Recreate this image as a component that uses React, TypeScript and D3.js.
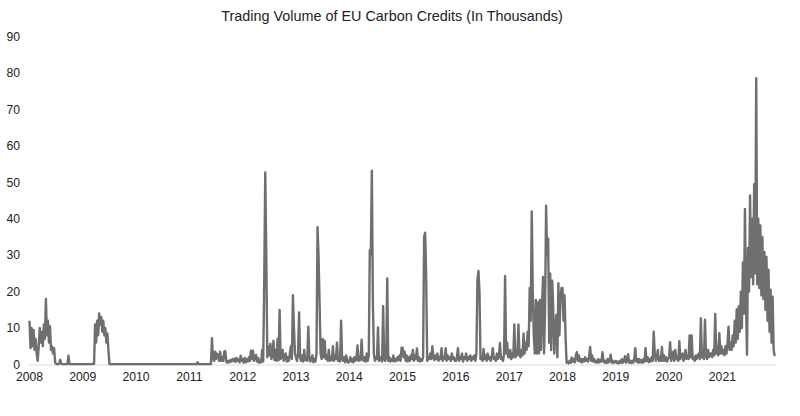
import React from "react";
import * as d3 from "d3";

const title = "Trading Volume of EU Carbon Credits (In Thousands)";
const years = [2008, 2009, 2010, 2011, 2012, 2013, 2014, 2015, 2016, 2017, 2018, 2019, 2020, 2021];
const yTicks = [0, 10, 20, 30, 40, 50, 60, 70, 80, 90];
const xTickLabels = ["2008", "2009", "2010", "2011", "2012", "2013", "2014", "2015", "2016", "2017", "2018", "2019", "2020", "2021"];

// weekly volumes (thousands)
const v2008 = [12, 4.5, 10, 5, 9.5, 4, 7, 3, 1, 5, 10, 6, 9, 5, 11, 7, 18, 8, 12, 6, 10.5, 4, 5, 3, 4.5, 0.5, 0.2, 0.1, 0.1, 0.3, 1.3, 0.2, 0.1, 0.1, 0.1, 0.1, 0.1, 0.1, 2.4, 0.1, 0.1, 0.1, 0.1, 0.1, 0.1, 0.1, 0.1, 0.1, 0.1, 0.1, 0.1, 0.1];
const v2009 = [0.1, 0.1, 0.1, 0.1, 0.1, 0.1, 0.1, 0.1, 0.1, 0.1, 0.3, 0.2, 11, 6, 12, 8, 14, 11, 13, 9, 12, 8, 10, 6, 8.5, 4, 0.1, 0.1, 0.1, 0.1, 0.1, 0.1, 0.1, 0.1, 0.1, 0.1, 0.1, 0.1, 0.1, 0.1, 0.1, 0.1, 0.1, 0.1, 0.1, 0.1, 0.1, 0.1, 0.1, 0.1, 0.1, 0.1];
const v2010 = [0.1, 0.1, 0.1, 0.1, 0.1, 0.1, 0.1, 0.1];
const v2011 = [0.1, 0.1, 0.1, 0.1, 0.1, 0.1, 0.1, 0.1, 0.6, 0.1, 0.1, 0.1, 0.1, 0.1, 0.1, 0.1, 0.1, 0.1, 0.1, 0.1, 0.1, 0.1, 7.2, 2, 1, 3.5, 1.5, 3, 2.5, 1, 3.5, 1, 2, 1, 3.5, 3.7, 0.8, 0.5, 1, 0.6, 1.2, 0.8, 1.5, 1, 1.6, 0.7, 1.8, 1, 1.4, 0.6, 2.4, 1];
const v2012 = [1.5, 0.5, 1.8, 0.6, 1.5, 0.8, 2, 1, 3.8, 1.5, 3.8, 1, 2.2, 2.6, 0.8, 1.8, 0.5, 1.2, 0.6, 4, 0.8, 22.7, 52.7, 30.5, 2, 5, 2.5, 5.7, 1.5, 2.5, 6.5, 1.2, 4, 1, 7, 1.2, 15, 1.5, 2.5, 4, 1, 2, 3, 0.8, 2, 1, 3, 5, 1.5, 19, 10, 3];
const v2013 = [2, 1, 3, 14.3, 2, 1, 2.5, 0.8, 4, 1.2, 2, 1, 10.4, 2, 0.8, 1.5, 2.5, 0.6, 1.5, 0.8, 3, 37.7, 29.7, 17, 3, 1.5, 7, 2, 6.5, 1.5, 2.5, 1, 4, 1, 2, 1.2, 5, 1, 2.5, 1.5, 6, 1, 2, 0.8, 12, 1.5, 1, 2, 0.6, 2.5, 1, 0.5];
const v2014 = [1, 2, 0.8, 1.5, 0.6, 2, 1, 1.5, 5.2, 1, 2, 1.2, 6.8, 1.5, 1, 2, 0.8, 3, 1, 2.5, 31.4, 30, 53.2, 17, 3, 1, 2, 1.5, 10.2, 1, 2, 1.5, 0.8, 16, 1.5, 1, 2, 23.6, 1, 2, 0.8, 1.5, 1, 2.5, 0.8, 1.5, 1, 2, 1.2, 2.5, 1, 4.6];
const v2015 = [4.6, 2, 3.5, 1, 2.5, 0.8, 2, 1, 2.5, 1.5, 4, 1, 2.5, 1.5, 4.4, 1, 2, 0.8, 1.5, 1, 2, 35, 36.2, 24, 1, 2, 1.5, 3, 1.5, 5, 2, 1.2, 2.5, 1.5, 3, 1, 2, 1.5, 4.5, 1, 2, 1.5, 4.5, 1, 2.5, 1.5, 2, 1, 3, 1.5, 2, 1];
const v2016 = [1, 2, 4.5, 1, 2, 1.5, 3, 0.8, 2, 1.5, 3, 1, 2, 1.5, 2.5, 1, 2, 1.5, 2.5, 1, 3, 23, 25.7, 20, 1.5, 2, 1, 4.3, 1.5, 2.5, 1, 3, 1.5, 2, 1, 2.5, 4.5, 1.5, 2, 1, 3, 1.5, 2.5, 5.9, 1.5, 2, 1, 3, 24.3, 3, 6, 2];
const v2017 = [2, 4, 1.5, 3, 2, 11, 2, 4, 2.5, 11, 3, 2, 4, 2.5, 8.5, 3, 6, 4, 9, 5, 21, 12, 42, 20, 8, 3, 17.7, 3, 17, 3, 17.7, 4, 16, 24, 3, 15, 43.6, 30, 34.5, 6, 25, 4, 23, 15, 3, 10, 13.6, 2, 22.3, 8, 18, 21];
const v2018 = [21, 12, 19, 7.4, 0.5, 0.8, 0.3, 1, 0.5, 1.9, 0.8, 1.5, 0.6, 2.5, 3.4, 1, 2.5, 0.8, 1.5, 0.6, 1.5, 0.8, 2, 1, 1.5, 0.8, 2.5, 4.8, 1, 2.5, 0.8, 1.5, 0.6, 1, 0.5, 1.5, 0.6, 1.2, 0.8, 3.4, 1, 0.5, 1, 0.4, 1.5, 0.6, 1, 2.7, 0.5, 1, 0.4, 0.8];
const v2019 = [1, 0.4, 0.8, 0.3, 1, 0.5, 1.5, 0.5, 1, 2.3, 0.5, 1, 2.8, 0.5, 1, 0.4, 1, 0.5, 1.5, 4.5, 0.8, 1.5, 0.5, 1.5, 0.6, 1.2, 0.5, 1.5, 0.7, 4.5, 1, 2, 0.6, 1.5, 0.8, 2, 1, 9, 3, 1, 2, 4, 1, 2, 1, 4.8, 1, 2.5, 1, 2, 0.8, 1.5];
const v2020 = [2, 6.1, 1, 2, 3.5, 1, 4, 1.5, 2, 1, 6.4, 1.5, 2.5, 3, 1, 2, 4, 1.5, 2.5, 1.5, 8, 2, 8, 1.5, 2, 1, 2.5, 1.5, 2.5, 3, 1.5, 12.7, 2, 3, 1.5, 12.3, 2.5, 1.5, 4, 2, 3, 3, 2, 4, 2.5, 13.9, 3, 5, 2.5, 8.6, 3, 5];
const v2021 = [3, 4, 2.5, 5, 3, 6, 10.4, 4, 6, 4, 8, 5, 12, 6, 15.2, 7, 16, 9, 20, 10, 28, 14, 42.7, 18, 2.7, 32, 20, 46.4, 24, 40, 22, 49.5, 25, 78.6, 22, 40, 21, 38.2, 19, 35, 18, 30.9, 15, 29.5, 12, 26, 9, 20.5, 6, 18.6, 4, 2.3];

const series = [v2008, v2009, v2010, v2011, v2012, v2013, v2014, v2015, v2016, v2017, v2018, v2019, v2020, v2021];

export default function App() {
  const W = 800;
  const H = 416;
  const x = d3.scaleLinear().domain([2008, 2022]).range([29.5, 775.7]);
  const y = d3.scaleLinear().domain([0, 90]).range([364.5, 36.6]);

  const points = years.flatMap((yr, k) =>
    series[k].map((v, i) => ({ t: yr + i / series[k].length, v }))
  );

  const line = d3
    .line<{ t: number; v: number }>()
    .x((d) => x(d.t))
    .y((d) => y(d.v));

  const font = "'Liberation Sans', Arial, sans-serif";

  return (
    <svg
      width={W}
      height={H}
      style={{ position: "absolute", left: 0, top: 0, background: "#fff" }}
      fontFamily={font}
    >
      <rect x={0} y={0} width={W} height={H} fill="#fff" />
      <text x={392} y={21} textAnchor="middle" fontSize={14.4} fill="#222">
        {title}
      </text>
      {yTicks.map((t) => (
        <text key={t} x={20} y={y(t)} dy="0.35em" textAnchor="end" fontSize={12.2} fill="#222">
          {t}
        </text>
      ))}
      <line x1={x(2008)} x2={x(2022)} y1={y(0) + 0.5} y2={y(0) + 0.5} stroke="#d9d9d9" strokeWidth={1} />
      {xTickLabels.map((lab, i) => (
        <text key={lab} x={x(years[i])} y={381} textAnchor="middle" fontSize={12.2} fill="#222">
          {lab}
        </text>
      ))}
      <path
        d={line(points) || ""}
        fill="none"
        stroke="#6f6f6f"
        strokeWidth={2.4}
        strokeLinejoin="round"
      />
    </svg>
  );
}
